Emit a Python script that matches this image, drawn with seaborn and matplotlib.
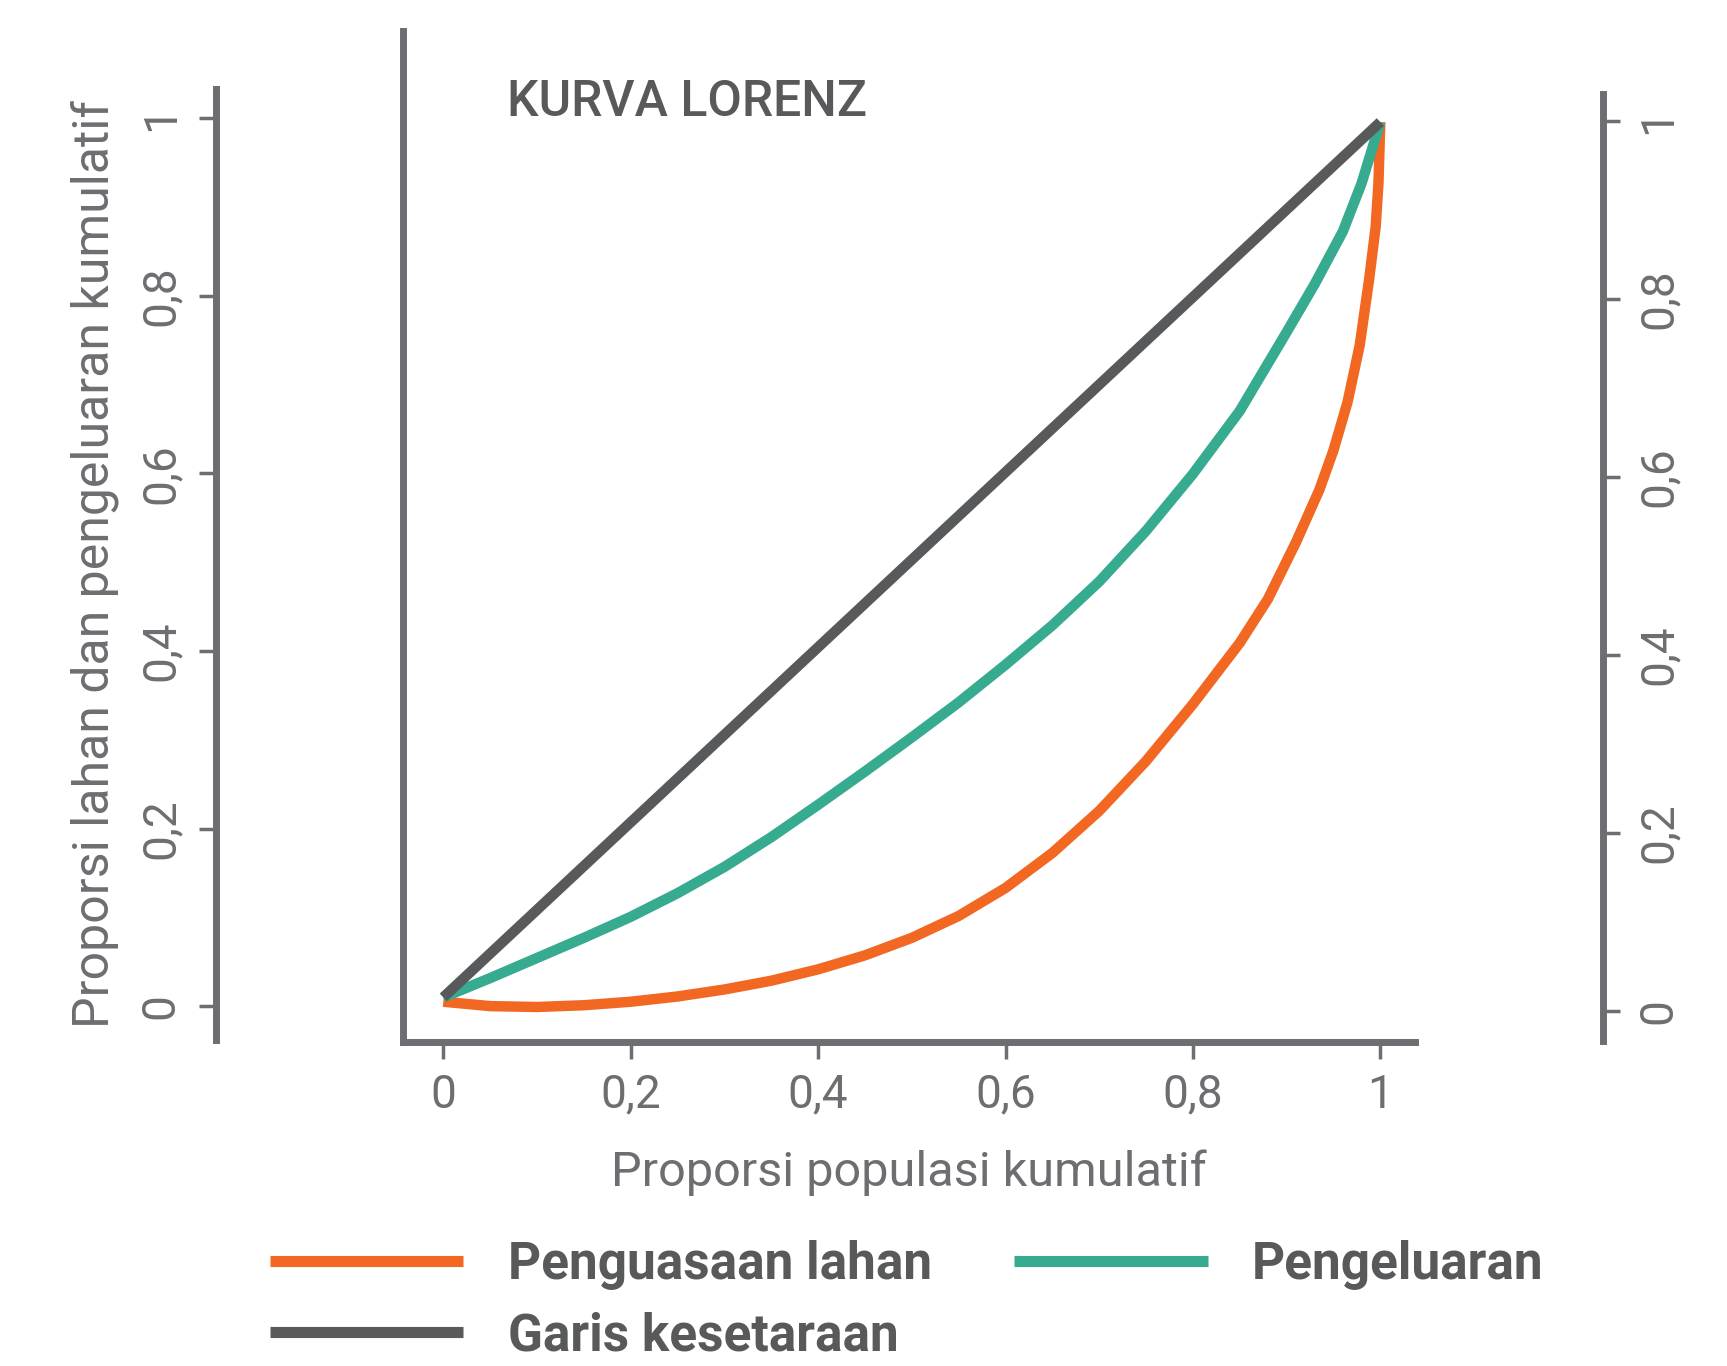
import pandas as pd
import matplotlib
matplotlib.use("Agg")
import matplotlib.pyplot as plt
import seaborn as sns
from matplotlib import font_manager

# Data
pop_lahan = [0, 0.05, 0.1, 0.15, 0.2, 0.25, 0.3, 0.35, 0.4, 0.45, 0.5, 0.55, 0.6, 0.65,
             0.7, 0.75, 0.8, 0.85, 0.88, 0.91, 0.935, 0.95, 0.965, 0.978, 0.988, 0.995, 0.998, 1.0]
lahan = [-0.005, -0.010, -0.011, -0.009, -0.005, 0.001, 0.009, 0.019, 0.032, 0.048, 0.068,
         0.093, 0.125, 0.165, 0.213, 0.270, 0.335, 0.405, 0.455, 0.520, 0.580, 0.625, 0.680,
         0.745, 0.820, 0.880, 0.930, 1.0]

pop_keluaran = [0, 0.05, 0.1, 0.15, 0.2, 0.25, 0.3, 0.35, 0.4, 0.45, 0.5, 0.55, 0.6, 0.65,
                0.7, 0.75, 0.8, 0.85, 0.9, 0.93, 0.96, 0.98, 1.0]
keluaran = [0, 0.022, 0.045, 0.068, 0.092, 0.119, 0.149, 0.183, 0.220, 0.258, 0.297, 0.337,
            0.380, 0.425, 0.475, 0.533, 0.598, 0.670, 0.760, 0.815, 0.875, 0.930, 1.0]

pop_garis = [0, 1]
garis = [0, 1]

series_names = ["Penguasaan lahan", "Pengeluaran", "Garis kesetaraan"]
colors = {"Penguasaan lahan": "#f26722", "Pengeluaran": "#36ab8f", "Garis kesetaraan": "#58595b"}

tick_vals = [0, 0.2, 0.4, 0.6, 0.8, 1]
tick_labels = ["0", "0,2", "0,4", "0,6", "0,8", "1"]

df = pd.concat([
    pd.DataFrame({"x": pop_lahan, "y": lahan, "seri": series_names[0]}),
    pd.DataFrame({"x": pop_keluaran, "y": keluaran, "seri": series_names[1]}),
    pd.DataFrame({"x": pop_garis, "y": garis, "seri": series_names[2]}),
])

sns.set_theme(style="white")
names = {f.name for f in font_manager.fontManager.ttflist}
narrow = "Liberation Sans Narrow" if "Liberation Sans Narrow" in names else "Roboto"
plt.rcParams["font.family"] = [narrow, "DejaVu Sans"]

axis_gray = "#6d6e71"
text_gray = "#58595b"

W, H = 1727, 1366


def rect(left, top, right, bottom):
    return [left / W, 1 - bottom / H, (right - left) / W, (bottom - top) / H]


fig = plt.figure(figsize=(W / 100, H / 100), dpi=100)

# main plot
ax = fig.add_axes(rect(403, 31, 1415, 1042))
sns.lineplot(data=df, x="x", y="y", hue="seri", palette=colors, estimator=None,
             sort=False, linewidth=7.5, legend=False, ax=ax)
for ln in ax.get_lines():
    ln.set_solid_capstyle("butt")
    ln.set_solid_joinstyle("round")
ax.set_xlim(-0.043, 1.037)
ax.set_ylim(-0.051, 1.104)
for s in ["top", "right"]:
    ax.spines[s].set_visible(False)
for s in ["left", "bottom"]:
    ax.spines[s].set_linewidth(5)
    ax.spines[s].set_color(axis_gray)
ax.set_yticks([])
ax.set_xticks(tick_vals)
ax.set_xticklabels(tick_labels)
ax.tick_params(axis="x", bottom=True, direction="out", length=12, width=2.5,
               color=axis_gray, labelcolor=axis_gray, labelsize=33, pad=10)
ax.set_xlabel("Proporsi populasi kumulatif", fontsize=35, color=axis_gray, labelpad=24)
ax.set_ylabel("")

fig.text(507 / W, 1 - 102 / H, "KURVA LORENZ", fontsize=36, fontweight="medium",
         color=text_gray, ha="left", va="center")

# left scale
lax = fig.add_axes(rect(216, 89, 217, 1040))
lax.set_ylim(-0.038, 1.033)
lax.set_xticks([])
for s in ["top", "right", "bottom"]:
    lax.spines[s].set_visible(False)
lax.spines["left"].set_linewidth(5)
lax.spines["left"].set_color(axis_gray)
lax.set_yticks(tick_vals)
lax.set_yticklabels(tick_labels, rotation=90, va="center")
lax.tick_params(axis="y", left=True, direction="out", length=12, width=2.5,
                color=axis_gray, labelcolor=axis_gray, labelsize=33, pad=12)
lax.set_ylabel("Proporsi lahan dan pengeluaran kumulatif", fontsize=36,
               color=axis_gray, labelpad=14)

# right scale
rax = fig.add_axes(rect(1602, 94, 1603, 1041))
rax.set_ylim(-0.034, 1.030)
rax.set_xticks([])
for s in ["top", "left", "bottom"]:
    rax.spines[s].set_visible(False)
rax.spines["right"].set_linewidth(5)
rax.spines["right"].set_color(axis_gray)
rax.yaxis.tick_right()
rax.set_yticks(tick_vals)
rax.set_yticklabels(tick_labels, rotation=90, va="center")
rax.tick_params(axis="y", right=True, direction="out", length=12, width=2.5,
                color=axis_gray, labelcolor=axis_gray, labelsize=33, pad=12)

# legend (column-wise fill gives the row order of the original)
labels = ["Penguasaan lahan", "Garis kesetaraan", "Pengeluaran"]
handles = [plt.Line2D([], [], color=colors[n], linewidth=8, solid_capstyle="butt")
           for n in labels]
leg = fig.legend(handles, labels, ncol=2, frameon=False, loc="upper left",
                 bbox_to_anchor=(244 / W, 1 - 1214 / H), borderpad=0,
                 handlelength=3.77, handletextpad=0.86, columnspacing=1.6,
                 labelspacing=0.42, prop={"size": 37, "weight": "bold"})
for t in leg.get_texts():
    t.set_color(text_gray)

fig.savefig("out.png", dpi=100)
